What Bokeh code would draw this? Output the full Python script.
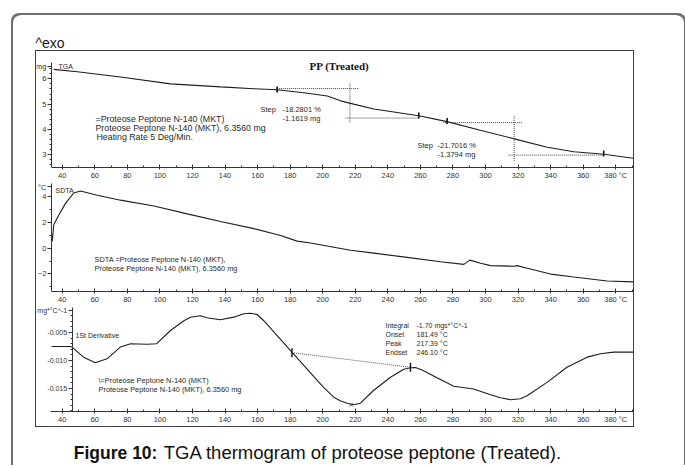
import numpy as np
from bokeh.plotting import figure
from bokeh.models import (Label, Range1d, SingleIntervalTicker, FixedTicker,
                          NumeralTickFormatter, Spacer)
from bokeh.layouts import column, row
from bokeh.embed import file_html
from bokeh.resources import INLINE

# ---------------- data ----------------
tga_T = [34.8, 49.2, 75.8, 106.5, 137.2, 157.7, 172.0, 188.4, 202.8, 211.0, 219.0,
         231.4, 259.0, 276.4, 296.8, 318.3, 337.9, 354.3, 372.8, 391.0]
tga_mg = [6.37, 6.28, 6.07, 5.80, 5.68, 5.61, 5.57, 5.45, 5.32, 5.13, 5.00,
          4.81, 4.54, 4.31, 3.97, 3.62, 3.30, 3.12, 3.02, 2.86]
tga_mark_T = [172.0, 259.0, 276.4, 372.6]
tga_mark_mg = [5.58, 4.55, 4.33, 3.05]
step_h_T0 = [172.0, 214.0, 274.0, 314.0]
step_h_T1 = [222.0, 259.0, 322.6, 372.6]
step_h_mg = [5.615, 4.45, 4.27, 2.99]
step_v_T = [216.7, 317.6]
step_v_lo = [4.27, 2.76]
step_v_hi = [5.81, 4.53]

sdta_T = [33.5, 33.9, 34.8, 37.9, 42.0, 47.1, 51.2, 61.5, 75.8, 96.3, 116.8, 137.2,
          157.7, 174.1, 184.3, 192.5, 217.0, 231.4, 251.9, 272.4, 286.7, 290.4,
          297.0, 303.1, 317.4, 319.5, 325.6, 339.9, 354.2, 374.7, 391.0]
sdta_C = [1.0, 0.56, 1.84, 2.6, 3.5, 4.31, 4.46, 4.13, 3.75, 3.29, 2.68, 2.09,
          1.53, 0.99, 0.56, 0.41, -0.15, -0.38, -0.71, -1.05, -1.25, -0.92,
          -1.17, -1.35, -1.40, -1.35, -1.55, -2.01, -2.24, -2.55, -2.62]

der_T = [33.4, 45.0, 46.0, 53.1, 60.3, 67.5, 75.7, 82.0, 92.0, 98.0, 106.5, 114.7,
         118.8, 121.9, 124.9, 129.0, 137.0, 145.4, 151.5, 155.7, 159.7, 163.8, 172.0,
         181.1, 190.3, 200.5, 206.8, 210.7, 215.0, 218.9, 223.2, 231.0, 241.6, 249.8,
         253.9, 257.0, 261.0, 270.2, 280.5, 292.7, 303.0, 309.2, 315.3, 321.5, 325.5,
         337.8, 350.0, 362.4, 370.7, 378.7, 391.0]
der_v = [-0.0075, -0.0075, -0.0076, -0.0094, -0.0104, -0.0097, -0.0076, -0.0070,
         -0.0071, -0.0070, -0.00464, -0.0029,
         -0.00227, -0.00214, -0.00202, -0.00238, -0.00273, -0.00226, -0.00166, -0.00155,
         -0.00179, -0.0029, -0.00554,
         -0.0085, -0.0115, -0.0148, -0.01655, -0.0172, -0.01762, -0.0179, -0.01762,
         -0.0154, -0.0130, -0.01155,
         -0.0113, -0.01125, -0.0117, -0.0131, -0.0146, -0.0151, -0.0161, -0.01666,
         -0.0170, -0.01684, -0.0163,
         -0.0139, -0.0112, -0.0094, -0.0088, -0.0085, -0.0085]
der_base_T = [181.1, 253.9]
der_base_v = [-0.0086, -0.0112]
der_peak_T = [217.39]
der_peak_v = [-0.0179]

x_tick_step = 20
last_tick_label = {380: "380 \u00b0C"}

tga_ticks = [3, 4, 5, 6]
tga_minor = [2.6, 2.8, 3.2, 3.4, 3.6, 3.8, 4.2, 4.4, 4.6, 4.8, 5.2, 5.4, 5.6, 5.8, 6.2, 6.4]
tga_unit = {6.5: "mg"}
sdta_ticks = [-2, 0, 2, 4]
sdta_minor = [-3, -1, 1, 3]
sdta_unit = {4.8: "\u00b0C"}
der_ticks = [-0.015, -0.010, -0.005]
der_minor = [-0.019, -0.018, -0.017, -0.016, -0.014, -0.013, -0.012, -0.011,
             -0.009, -0.008, -0.007, -0.006, -0.004, -0.003, -0.002]
der_unit = {-0.001: "mg*\u00b0C^-1"}

# ---------------- geometry helpers (page px -> data) ----------------
PXD = 1.628            # px per degree
T_AT_51 = 33.4         # temperature at page x = 51


def tx(px):
    return T_AT_51 + (px - 51) / PXD


def y1(py):
    return 6 - (py - 79) / 26.0


def y2(py):
    return (249 - py) / 13.07


def y3(py):
    return -0.005 - (py - 332) / 5600.0


FONT = "Liberation Sans"
INK = "#2a2a2a"


def style(p, major, minor, unit, yaxis_at, xaxis_from, ybounds, fmt=None, ysize="7.5px"):
    p.background_fill_color = "white"
    p.border_fill_color = "white"
    p.outline_line_color = None
    p.xgrid.visible = False
    p.ygrid.visible = False
    for ax in p.xaxis:
        ax.ticker = SingleIntervalTicker(interval=x_tick_step, num_minor_ticks=2)
        ax.major_label_overrides = last_tick_label
        ax.bounds = (xaxis_from, tx(640))
        ax.major_tick_in = 3
        ax.major_tick_out = 2
        ax.minor_tick_in = 2
        ax.minor_tick_out = 0
        ax.major_label_text_font_size = "7.5px"
    for ax in p.yaxis:
        ax.ticker = FixedTicker(ticks=list(major) + list(unit.keys()), minor_ticks=minor)
        ax.major_label_overrides = unit
        ax.fixed_location = yaxis_at
        ax.bounds = ybounds
        ax.major_tick_in = 0
        ax.major_tick_out = 4
        ax.minor_tick_in = 0
        ax.minor_tick_out = 2
        ax.major_label_text_font_size = ysize
        if fmt:
            ax.formatter = NumeralTickFormatter(format=fmt)
    for ax in list(p.xaxis) + list(p.yaxis):
        ax.axis_line_color = "#333333"
        ax.major_tick_line_color = "#333333"
        ax.minor_tick_line_color = "#333333"
        ax.major_label_text_font = FONT
        ax.major_label_text_color = "#333333"
        ax.major_label_standoff = 1


def lab(p, px, py, yfun, text, size="7px", align="left", font=FONT, style_="normal", color=INK):
    p.add_layout(Label(x=tx(px), y=yfun(py), text=text, text_font=font,
                       text_font_size=size, text_align=align, text_baseline="middle",
                       text_font_style=style_, text_color=color))


def panel(h, top_px, bottom_px, yfun, mbb):
    return figure(width=597, height=h, output_backend="svg", toolbar_location=None,
                  x_range=Range1d(tx(36), tx(633)),
                  y_range=Range1d(yfun(bottom_px), yfun(top_px)),
                  min_border_left=0, min_border_right=0,
                  min_border_top=0, min_border_bottom=mbb)


# ---------------- panel 1: TGA ----------------
p1 = panel(131, 51, 170, y1, 12)
style(p1, tga_ticks, tga_minor, tga_unit, tx(51), tx(51), (y1(170), y1(62)))
p1.line(tga_T, tga_mg, line_color="#1e1e1e", line_width=1.1)
p1.segment(x0=step_h_T0, y0=step_h_mg, x1=step_h_T1, y1=step_h_mg,
           line_color="#444444", line_dash="1 1", line_width=1)
p1.segment(x0=step_v_T, y0=step_v_lo, x1=step_v_T, y1=step_v_hi,
           line_color="#444444", line_dash="1 1", line_width=1)
p1.scatter(tga_mark_T, tga_mark_mg, marker="dash", angle=np.pi / 2, size=6,
           line_color="#111111", line_width=1.6)
lab(p1, 58, 66, y1, "TGA")
lab(p1, 339, 66, y1, "PP (Treated)", size="11px", align="center",
    font="Liberation Serif", style_="bold", color="#111111")
lab(p1, 95, 120.7, y1, "=Proteose Peptone N-140 (MKT)", size="8.8px")
lab(p1, 95, 129.3, y1, "Proteose Peptone N-140 (MKT), 6.3560 mg", size="8.8px")
lab(p1, 96, 138.3, y1, "Heating Rate 5 Deg/Min.", size="8.8px")
lab(p1, 260, 110.7, y1, "Step", size="7.5px")
lab(p1, 282, 110.7, y1, "-18.2801 %", size="7.5px")
lab(p1, 282, 119.3, y1, "-1.1619 mg", size="7.5px")
lab(p1, 417, 147.3, y1, "Step", size="7.5px")
lab(p1, 437, 147.3, y1, "-21.7016 %", size="7.5px")
lab(p1, 437, 156.7, y1, "-1.3794 mg", size="7.5px")

# ---------------- panel 2: SDTA ----------------
p2 = panel(124, 182, 293, y2, 13)
style(p2, sdta_ticks, sdta_minor, sdta_unit, tx(51), tx(51), (y2(293), y2(183)))
p2.line(sdta_T, sdta_C, line_color="#1e1e1e", line_width=1.1)
lab(p2, 55, 190, y2, "SDTA")
lab(p2, 94, 260, y2, "SDTA =Proteose Peptone N-140 (MKT),", size="7.4px")
lab(p2, 94, 269.3, y2, "Proteose Peptone N-140 (MKT), 6.3560 mg", size="7.4px")

# ---------------- panel 3: 1st derivative ----------------
p3 = panel(120, 306, 411, y3, 15)
style(p3, der_ticks, der_minor, der_unit, 46.1, tx(50), (y3(411), y3(307)),
      fmt="0.000", ysize="7px")
p3.line(der_T, der_v, line_color="#1e1e1e", line_width=1.1)
p3.line(der_base_T, der_base_v, line_color="#555555", line_dash="1 1", line_width=1)
p3.scatter(der_base_T, der_base_v, marker="dash", angle=np.pi / 2, size=9,
           line_color="#111111", line_width=1.4)
p3.scatter(der_peak_T, der_peak_v, marker="x", size=5, line_color="#555555", line_width=1)
lab(p3, 75, 335, y3, "1St Derivative")
lab(p3, 98, 380, y3, "\\=Proteose Peptone N-140 (MKT)", size="7.4px")
lab(p3, 98, 389.3, y3, "Proteose Peptone N-140 (MKT), 6.3560 mg", size="7.4px")
for i, (a, b) in enumerate([("Integral", "-1.70 mgs*\u00b0C^-1"), ("Onset", "181.49 \u00b0C"),
                            ("Peak", "217.39 \u00b0C"), ("Endset", "246.10 \u00b0C")]):
    yy = [325, 334, 342.7, 351.7][i]
    lab(p3, 385, yy, y3, a)
    lab(p3, 416, yy, y3, b)


def blank(w, h):
    f = figure(width=w, height=h, output_backend="svg", toolbar_location=None,
               x_range=Range1d(0, w), y_range=Range1d(0, h),
               min_border=0)
    f.axis.visible = False
    f.grid.visible = False
    f.outline_line_color = None
    f.background_fill_alpha = 0
    f.border_fill_alpha = 0
    return f


OUT_W = 671
header = blank(OUT_W, 36)
header.add_layout(Label(x=22, y=8.3, text="^exo", text_font=FONT, text_font_size="14px",
                        text_baseline="middle", text_color="#1a1a1a"))

caption = blank(OUT_W, 40)
caption.add_layout(Label(x=60.3, y=15, text="Figure 10:", text_font=FONT, text_font_size="17.5px",
                         text_font_style="bold", text_baseline="alphabetic", text_color="#111111"))
caption.add_layout(Label(x=150.3, y=15, text="TGA thermogram of proteose peptone (Treated).",
                         text_font=FONT, text_font_size="18.5px", text_baseline="alphabetic",
                         text_color="#111111"))

box = column(p1, p2, p3, spacing=0, styles={"outline": "1px solid #404040"})
mid = row(Spacer(width=23, height=10), box, spacing=0)
outer = column(header, mid, Spacer(width=10, height=1), caption, spacing=0,
               margin=(15, 0, 0, 13),
               styles={"box-shadow": "-2px -2px 0 0 #707070, 2px -2px 0 0 #707070",
                       "border-top-left-radius": "8px", "border-top-right-radius": "8px"})

open("out.html", "w").write(file_html(outer, INLINE))
